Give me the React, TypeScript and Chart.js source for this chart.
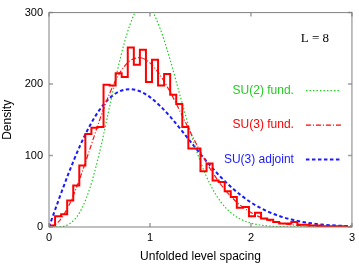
import React, { useEffect, useRef } from 'react';
import { Chart, registerables } from 'chart.js';

Chart.register(...registerables);

// Histogram of unfolded level spacings (bin width 0.06, bins start at 0)
const binWidth = 0.06;
const histCounts = [
  2, 15, 18, 37, 58, 86, 130, 139, 140, 199,
  198, 215, 210, 251, 227, 248, 203, 234, 198, 214,
  185, 172, 140, 110, 110, 78, 89, 65, 63, 50,
  42, 27, 28, 15, 20, 12, 10, 7, 5, 5,
  7, 3, 3, 2, 2, 1, 1, 1, 1, 0,
];

// Reference curves, sampled along s
const curveS = [
  0, 0.1, 0.2, 0.3, 0.4, 0.5, 0.6, 0.7, 0.8, 0.9, 1.0,
  1.1, 1.2, 1.3, 1.4, 1.5, 1.6, 1.7, 1.8, 1.9, 2.0,
  2.1, 2.2, 2.3, 2.4, 2.5, 2.6, 2.7, 2.8, 2.9, 3.0,
];
const su2Fund = [
  0, 0.3, 4.3, 19.4, 52.3, 104.1, 168.3, 232.4, 282.3, 307.8, 305.2,
  277.7, 233.7, 182.8, 133.4, 91.2, 58.5, 35.3, 20.1, 10.8, 5.5,
  2.6, 1.2, 0.5, 0.2, 0.1, 0, 0, 0, 0, 0,
];
const su3Fund = [
  0, 8.1, 31.2, 65.8, 107.0, 149.2, 186.7, 215.4, 232.4, 236.9, 229.6,
  212.6, 188.9, 161.2, 132.6, 105.2, 80.7, 59.8, 42.9, 29.9, 20.2,
  13.2, 8.4, 5.2, 3.1, 1.8, 1.0, 0.5, 0.3, 0.1, 0.1,
];
const su3Adjoint = [
  0, 39.6, 77.3, 111.4, 140.6, 163.8, 180.3, 189.9, 192.9, 189.9, 181.7,
  169.5, 154.4, 137.4, 119.7, 102.1, 85.4, 70.0, 56.3, 44.5, 34.4,
  26.2, 19.6, 14.4, 10.4, 7.4, 5.1, 3.5, 2.4, 1.6, 1.0,
];

const xTicks = [0, 1, 2, 3];
const yTicks = [0, 100, 200, 300];

const legendItems = [
  { label: 'SU(2) fund.', color: '#22cc22', dash: [1.5, 2], width: 1.3 },
  { label: 'SU(3) fund.', color: '#ff0000', dash: [5, 2, 1, 2], width: 1.2 },
  { label: 'SU(3) adjoint', color: '#1a1aff', dash: [3.5, 2.5], width: 2 },
];

const FONT = '"Liberation Sans", Arial, Helvetica, sans-serif';

const framePlugin = {
  id: 'frameAndLegend',
  afterDatasetsDraw(chart: any) {
    const { ctx, chartArea, scales } = chart;
    const { left, right, top, bottom } = chartArea;
    ctx.save();
    // inward tick marks on all four sides
    ctx.strokeStyle = '#a0a0a0';
    ctx.lineWidth = 1.5;
    const tl = 4;
    xTicks.forEach((v) => {
      const px = scales.x.getPixelForValue(v);
      ctx.beginPath();
      ctx.moveTo(px, bottom);
      ctx.lineTo(px, bottom - tl);
      ctx.moveTo(px, top);
      ctx.lineTo(px, top + tl);
      ctx.stroke();
    });
    yTicks.forEach((v) => {
      const py = scales.y.getPixelForValue(v);
      ctx.beginPath();
      ctx.moveTo(left, py);
      ctx.lineTo(left + tl, py);
      ctx.moveTo(right, py);
      ctx.lineTo(right - tl, py);
      ctx.stroke();
    });
    // frame
    ctx.strokeStyle = '#808080';
    ctx.lineWidth = 1;
    ctx.strokeRect(left, top, right - left, bottom - top);

    // "L = 8" label
    ctx.fillStyle = '#000';
    ctx.font = '13px "Liberation Serif", "Times New Roman", serif';
    ctx.textAlign = 'center';
    ctx.textBaseline = 'middle';
    ctx.fillText('L = 8', right - 37, top + 26);

    // legend
    ctx.font = '12px ' + FONT;
    const textRight = right - 58;
    const lineX0 = right - 46;
    const lineX1 = right - 11;
    legendItems.forEach((it, i) => {
      const y = top + 78 + i * 34.5;
      ctx.fillStyle = it.color;
      ctx.textAlign = 'right';
      ctx.textBaseline = 'middle';
      ctx.fillText(it.label, textRight, y);
      ctx.strokeStyle = it.color;
      ctx.lineWidth = it.width;
      ctx.setLineDash(it.dash);
      ctx.beginPath();
      ctx.moveTo(lineX0, y);
      ctx.lineTo(lineX1, y);
      ctx.stroke();
      ctx.setLineDash([]);
    });
    ctx.restore();
  },
};

export default function App() {
  const canvasRef = useRef<HTMLCanvasElement | null>(null);

  useEffect(() => {
    const canvas = canvasRef.current;
    if (!canvas) return;

    const histPoints = histCounts.map((c, k) => ({ x: k * binWidth, y: c }));
    histPoints.push({ x: histCounts.length * binWidth, y: histCounts[histCounts.length - 1] });

    const curve = (vals: number[]) => curveS.map((s, i) => ({ x: s, y: vals[i] }));

    const chart = new Chart(canvas, {
      type: 'line',
      data: {
        datasets: [
          {
            label: 'histogram',
            data: histPoints,
            stepped: true,
            borderColor: '#ff0000',
            borderWidth: 2,
            pointRadius: 0,
            fill: false,
            order: 1,
          },
          {
            label: 'SU(3) fund.',
            data: curve(su3Fund),
            borderColor: '#ff1010',
            borderWidth: 1.2,
            borderDash: [5, 2, 1, 2],
            pointRadius: 0,
            cubicInterpolationMode: 'monotone',
            fill: false,
            order: 2,
          },
          {
            label: 'SU(2) fund.',
            data: curve(su2Fund),
            borderColor: '#22cc22',
            borderWidth: 1.2,
            borderDash: [1.5, 2],
            pointRadius: 0,
            cubicInterpolationMode: 'monotone',
            fill: false,
            order: 3,
          },
          {
            label: 'SU(3) adjoint',
            data: curve(su3Adjoint),
            borderColor: '#1a1aff',
            borderWidth: 2,
            borderDash: [3.5, 2.5],
            pointRadius: 0,
            cubicInterpolationMode: 'monotone',
            fill: false,
            order: 4,
          },
        ],
      },
      options: {
        animation: false,
        responsive: false,
        devicePixelRatio: 1,
        layout: { padding: { left: 0, right: 5, top: 4, bottom: 0 } },
        plugins: {
          legend: { display: false },
          tooltip: { enabled: false },
        },
        scales: {
          x: {
            type: 'linear',
            min: 0,
            max: 3,
            grid: { display: false, drawTicks: false },
            border: { display: false },
            afterBuildTicks: (s: any) => {
              s.ticks = xTicks.map((v) => ({ value: v }));
            },
            afterFit: (s: any) => {
              s.height = 38;
            },
            ticks: {
              padding: 4,
              color: '#000',
              font: { family: FONT, size: 11 },
              maxRotation: 0,
              callback: (v: any) => String(v),
            },
            title: {
              display: true,
              text: 'Unfolded level spacing',
              color: '#000',
              font: { family: FONT, size: 12 },
              padding: { top: 0, bottom: 1.5 },
            },
          },
          y: {
            type: 'linear',
            min: 0,
            max: 300,
            grid: { display: false, drawTicks: false },
            border: { display: false },
            afterBuildTicks: (s: any) => {
              s.ticks = yTicks.map((v) => ({ value: v }));
            },
            afterFit: (s: any) => {
              s.width = 49;
            },
            ticks: {
              padding: 6,
              color: '#000',
              font: { family: FONT, size: 11 },
              callback: (v: any) => String(v),
            },
            title: {
              display: true,
              text: 'Density',
              color: '#000',
              font: { family: FONT, size: 12 },
              padding: { top: 0, bottom: 0 },
            },
          },
        },
      },
      plugins: [framePlugin],
    } as any);

    return () => chart.destroy();
  }, []);

  return (
    <div style={{ position: 'absolute', left: 0, top: 0, width: 359, height: 265, background: '#fff' }}>
      <canvas ref={canvasRef} width={359} height={265} style={{ display: 'block' }} />
    </div>
  );
}
